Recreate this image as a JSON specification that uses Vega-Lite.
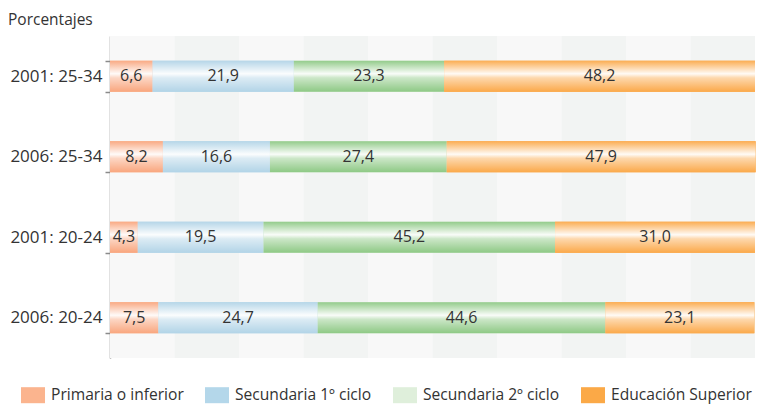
{
  "$schema": "https://vega.github.io/schema/vega-lite/v6.json",
  "width": 645,
  "height": 322,
  "autosize": {"type": "none"},
  "padding": {"left": 110, "top": 36, "right": 8, "bottom": 47},
  "config": {
    "view": {"stroke": null},
    "font": "Open Sans",
    "locale": {"number": {"decimal": ",", "thousands": ".", "grouping": [3], "currency": ["", " €"]}}
  },
  "title": {
    "text": "Porcentajes",
    "anchor": "start",
    "frame": "group",
    "dx": -102,
    "offset": -1,
    "fontSize": 15.5,
    "fontWeight": "normal",
    "color": "#333333",
    "font": "Open Sans"
  },
  "datasets": {
    "franjas": [
      {"desde": 0, "hasta": 10, "tono": "claro"},
      {"desde": 10, "hasta": 20, "tono": "oscuro"},
      {"desde": 20, "hasta": 30, "tono": "claro"},
      {"desde": 30, "hasta": 40, "tono": "oscuro"},
      {"desde": 40, "hasta": 50, "tono": "claro"},
      {"desde": 50, "hasta": 60, "tono": "oscuro"},
      {"desde": 60, "hasta": 70, "tono": "claro"},
      {"desde": 70, "hasta": 80, "tono": "oscuro"},
      {"desde": 80, "hasta": 90, "tono": "claro"},
      {"desde": 90, "hasta": 100, "tono": "oscuro"}
    ],
    "datos": [
      {"grupo": "2001: 25-34", "nivel": "Primaria o inferior", "valor": 6.6},
      {"grupo": "2001: 25-34", "nivel": "Secundaria 1º ciclo", "valor": 21.9},
      {"grupo": "2001: 25-34", "nivel": "Secundaria 2º ciclo", "valor": 23.3},
      {"grupo": "2001: 25-34", "nivel": "Educación Superior", "valor": 48.2},
      {"grupo": "2006: 25-34", "nivel": "Primaria o inferior", "valor": 8.2},
      {"grupo": "2006: 25-34", "nivel": "Secundaria 1º ciclo", "valor": 16.6},
      {"grupo": "2006: 25-34", "nivel": "Secundaria 2º ciclo", "valor": 27.4},
      {"grupo": "2006: 25-34", "nivel": "Educación Superior", "valor": 47.9},
      {"grupo": "2001: 20-24", "nivel": "Primaria o inferior", "valor": 4.3},
      {"grupo": "2001: 20-24", "nivel": "Secundaria 1º ciclo", "valor": 19.5},
      {"grupo": "2001: 20-24", "nivel": "Secundaria 2º ciclo", "valor": 45.2},
      {"grupo": "2001: 20-24", "nivel": "Educación Superior", "valor": 31.0},
      {"grupo": "2006: 20-24", "nivel": "Primaria o inferior", "valor": 7.5},
      {"grupo": "2006: 20-24", "nivel": "Secundaria 1º ciclo", "valor": 24.7},
      {"grupo": "2006: 20-24", "nivel": "Secundaria 2º ciclo", "valor": 44.6},
      {"grupo": "2006: 20-24", "nivel": "Educación Superior", "valor": 23.1}
    ]
  },
  "layer": [
    {
      "data": {"name": "franjas"},
      "mark": {"type": "rect"},
      "encoding": {
        "x": {"field": "desde", "type": "quantitative", "scale": {"domain": [0, 100], "nice": false, "zero": true}, "axis": null},
        "x2": {"field": "hasta"},
        "fill": {"condition": {"test": "datum.tono === 'oscuro'", "value": "#f2f4f3"}, "value": "#f8f8f8"}
      }
    },
    {
      "data": {"name": "datos"},
      "transform": [
        {"calculate": "indexof(['Primaria o inferior','Secundaria 1º ciclo','Secundaria 2º ciclo','Educación Superior'], datum.nivel)", "as": "orden"},
        {"stack": "valor", "groupby": ["grupo"], "sort": [{"field": "orden", "order": "ascending"}], "as": ["x0", "x1"]},
        {"calculate": "(datum.x0 + datum.x1) / 2", "as": "medio"}
      ],
      "encoding": {
        "y": {
          "field": "grupo",
          "type": "nominal",
          "sort": ["2001: 25-34", "2006: 25-34", "2001: 20-24", "2006: 20-24"],
          "scale": {"paddingInner": 0.615, "paddingOuter": 0.3075},
          "axis": {
            "title": null,
            "grid": false,
            "domainColor": "#8a8a8a",
            "domainWidth": 1.5,
            "tickColor": "#8a8a8a",
            "tickWidth": 1.5,
            "tickSize": 5,
            "tickBand": "extent",
            "labelFontSize": 17,
            "labelColor": "#333333",
            "labelPadding": 3,
            "labelFont": "Open Sans"
          }
        }
      },
      "layer": [
        {
          "mark": {"type": "bar"},
          "encoding": {
            "x": {"field": "x0", "type": "quantitative", "scale": {"domain": [0, 100], "nice": false}, "axis": null},
            "x2": {"field": "x1"},
            "color": {
              "field": "nivel",
              "type": "nominal",
              "scale": {
                "domain": ["Primaria o inferior", "Secundaria 1º ciclo", "Secundaria 2º ciclo", "Educación Superior"],
                "range": ["#fbb48e", "#b4d7ea", "#dfefdb", "#fba947"]
              },
              "legend": {
                "orient": "none",
                "legendX": -89,
                "legendY": 347,
                "direction": "horizontal",
                "columns": 4,
                "title": null,
                "symbolType": "M-1,-0.667H1V0.667H-1Z",
                "symbolSize": 576,
                "symbolStrokeWidth": 0,
                "symbolOpacity": 1,
                "labelFontSize": 15.6,
                "labelColor": "#333333",
                "labelFont": "Open Sans",
                "labelOffset": 6,
                "columnPadding": 21
              }
            }
          }
        },
        {
          "mark": {"type": "bar"},
          "encoding": {
            "x": {"field": "x0", "type": "quantitative"},
            "x2": {"field": "x1"},
            "fill": {
              "field": "nivel",
              "type": "nominal",
              "scale": {
                "domain": ["Primaria o inferior", "Secundaria 1º ciclo", "Secundaria 2º ciclo", "Educación Superior"],
                "range": ["#f9a67e", "#b2d4e7", "#8ec985", "#fba94a"]
              },
              "legend": null
            }
          }
        },
        {
          "mark": {
            "type": "bar",
            "fill": {
              "gradient": "linear",
              "x1": 0, "y1": 0, "x2": 0, "y2": 1,
              "stops": [
                {"offset": 0, "color": "rgba(255,255,255,0.05)"},
                {"offset": 0.42, "color": "rgba(255,255,255,0.95)"},
                {"offset": 0.55, "color": "rgba(255,255,255,0.55)"},
                {"offset": 1, "color": "rgba(255,255,255,0)"}
              ]
            }
          },
          "encoding": {
            "x": {"field": "x0", "type": "quantitative"},
            "x2": {"field": "x1"}
          }
        },
        {
          "mark": {"type": "text", "fontSize": 16, "color": "#333333", "baseline": "middle", "align": "center", "font": "Open Sans"},
          "encoding": {
            "x": {"field": "medio", "type": "quantitative"},
            "text": {"field": "valor", "type": "quantitative", "format": ".1f"}
          }
        }
      ]
    }
  ]
}
